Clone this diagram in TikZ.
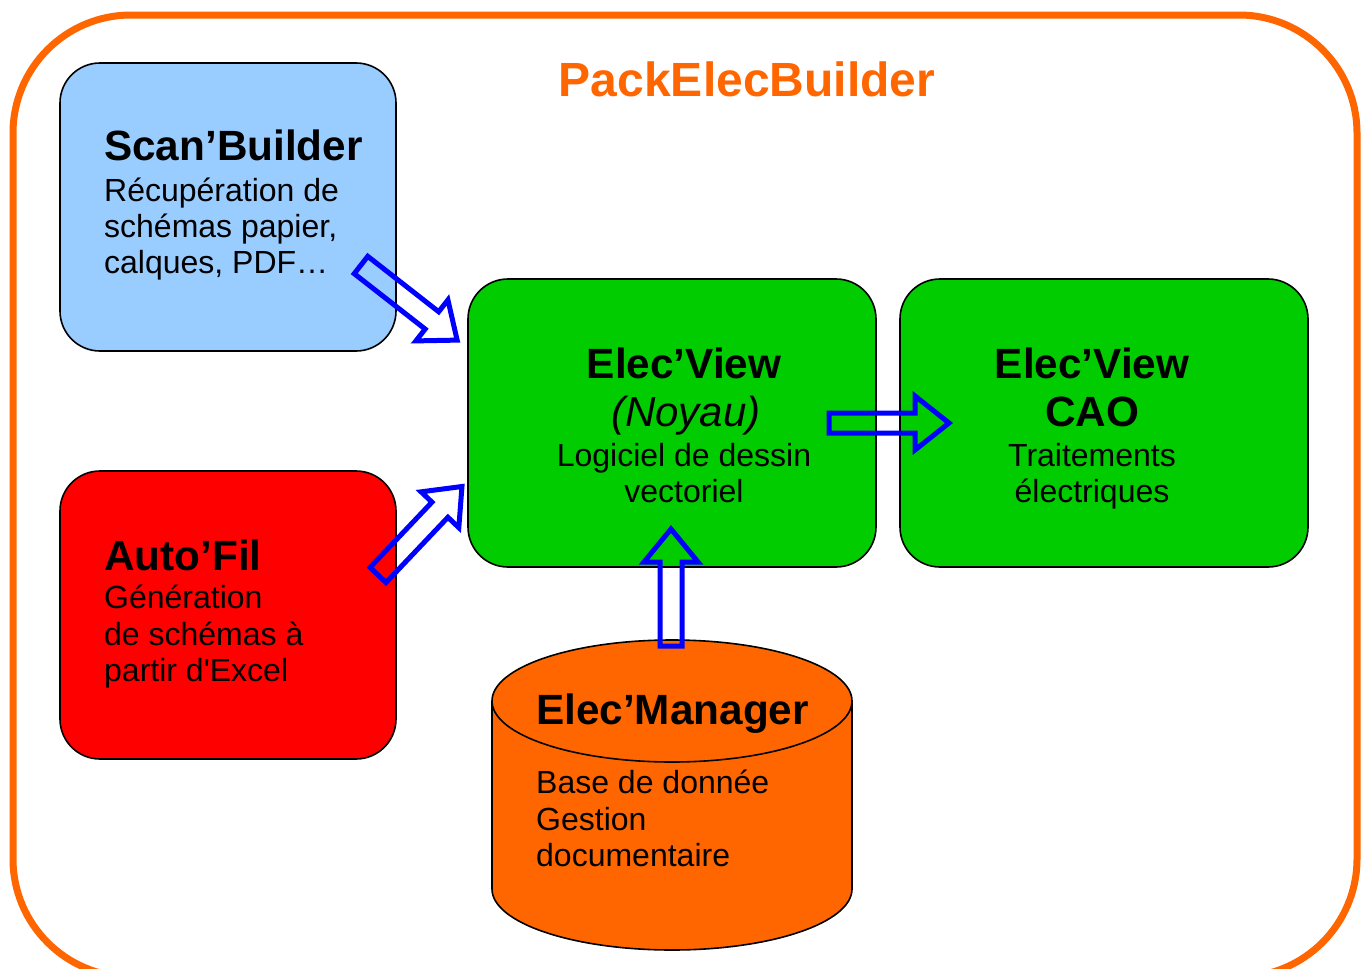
\documentclass[tikz,border=0pt]{standalone}
\usepackage{fontspec}
\setmainfont{Liberation Sans}[Ligatures=TeXOff]
\definecolor{frameorange}{HTML}{FF6600}
\definecolor{scanblue}{HTML}{99CCFF}
\definecolor{autored}{HTML}{FF0000}
\definecolor{viewgreen}{HTML}{00CC00}
\definecolor{arrowblue}{HTML}{0000FF}
\begin{document}
\begin{tikzpicture}[x=1pt,y=-1pt,
  box/.style={draw=black, line width=1.6pt, rounded corners=40pt},
  hd/.style={font=\fontsize{42.3}{48}\selectfont\bfseries, inner sep=0pt},
  hdit/.style={font=\fontsize{42}{48}\selectfont\itshape, inner sep=0pt},
  bd/.style={font=\fontsize{32}{37}\selectfont, inner sep=0pt},
  blk/.style={draw=arrowblue, line width=5pt, line join=miter},
  pics/barrow/.style n args={4}{code={
    \draw[blk] (0,-#3) -- (#1-#2,-#3) -- (#1-#2,-#4) -- (#1,0) -- (#1-#2,#4) -- (#1-#2,#3) -- (0,#3) -- cycle;}}
]
\useasboundingbox (0,0) rectangle (1366,969);
\clip (0,0) rectangle (1366,969);
\fill[white] (0,0) rectangle (1366,969);
% outer frame
\draw[frameorange, line width=7pt, rounded corners=118pt] (13,15) rectangle (1357,977);
\node[font=\fontsize{48}{54}\selectfont\bfseries, text=frameorange, inner sep=0pt, anchor=base] (title) at (747,96) {PackElecBuilder};

% Scan'Builder
\draw[box, fill=scanblue] (60,63) rectangle (396,351);
\node[hd, anchor=base west] (scanh) at (104,160) {Scan’Builder};
\node[bd, anchor=base west] (scan1) at (104,201) {Récupération de};
\node[bd, anchor=base west] (scan2) at (104,237) {schémas papier,};
\node[bd, anchor=base west] (scan3) at (104,273) {calques, PDF…};

% Auto'Fil
\draw[box, fill=autored] (60,471) rectangle (396,759);
\node[hd, anchor=base west] (autoh) at (104,570) {Auto’Fil};
\node[bd, anchor=base west] (auto1) at (104,608) {Génération};
\node[bd, anchor=base west] (auto2) at (104,645) {de schémas à};
\node[bd, anchor=base west] (auto3) at (104,681) {partir d'Excel};

% Elec'View
\draw[box, fill=viewgreen] (468,279) rectangle (876,567);
\node[hd, anchor=base] (viewh) at (684,378) {Elec’View};
\node[hdit, anchor=base] (view2) at (686,426) {(Noyau)};
\node[bd, anchor=base] (view3) at (684,466) {Logiciel de dessin};
\node[bd, anchor=base] (view4) at (684,502) {vectoriel};

% Elec'View CAO
\draw[box, fill=viewgreen] (900,279) rectangle (1308,567);
\node[hd, anchor=base] (caoh) at (1092,378) {Elec’View};
\node[hd, anchor=base] (cao2) at (1092,426) {CAO};
\node[bd, anchor=base] (cao3) at (1092,466) {Traitements};
\node[bd, anchor=base] (cao4) at (1092,502) {électriques};

% Elec'Manager cylinder
\fill[frameorange] (492,701) rectangle (852,889);
\fill[frameorange] (672,889) ellipse[x radius=180, y radius=61];
\draw[black, line width=1.6pt] (492,701) -- (492,889) arc[start angle=180, end angle=0, x radius=180, y radius=61] -- (852,701);
\draw[black, fill=frameorange, line width=1.6pt] (672,701) ellipse[x radius=180, y radius=61];
\node[hd, anchor=base west] (mgrh) at (536,724) {Elec’Manager};
\node[bd, anchor=base west] (mgr1) at (536,793) {Base de donnée};
\node[bd, anchor=base west] (mgr2) at (536,830) {Gestion};
\node[bd, anchor=base west] (mgr3) at (536,866) {documentaire};

% block arrows
\pic (a1) [rotate=-38] at (361,265) {barrow={122}{32}{11}{26}};
\pic (a2) [rotate=46.5] at (378,575) {barrow={122}{32}{11}{26}};
\pic (a3) at (829,423) {barrow={120}{34}{10}{27}};
\pic (a4) [rotate=90] at (671,646) {barrow={117}{33}{11}{27}};
\end{tikzpicture}
\end{document}
